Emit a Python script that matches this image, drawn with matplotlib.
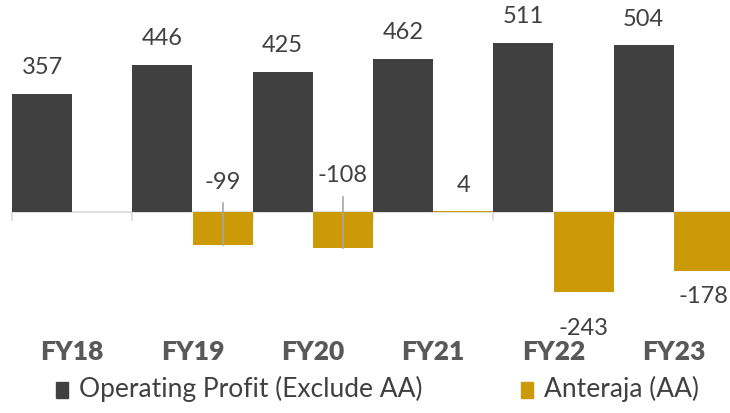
import matplotlib.pyplot as plt
import numpy as np

years = ['FY18', 'FY19', 'FY20', 'FY21', 'FY22', 'FY23']
op_profit = [357, 446, 425, 462, 511, 504]
anteraja = [np.nan, -99, -108, 4, -243, -178]

# where the Anteraja labels sit (data units), Excel moved some of them
aa_label_y = [None, 88, 112, 79, -351, -257]
# leader lines for the labels that were dragged away from the bar
aa_leader_top = [None, 27, 45, None, None, None]

dark = '#404040'
gold = '#CC9A06'
txt = '#404040'
font = 'Lato'

fig = plt.figure(figsize=(7.3, 4.13), dpi=100)
ax = fig.add_axes([12/730, (413-335)/413, 722/730, 335/413])

x = np.arange(len(years))
w = 0.5
ax.bar(x - w/2, op_profit, w, color=dark, zorder=2)
ax.bar(x + w/2, anteraja, w, color=gold, zorder=2)

ax.set_xlim(-0.5, len(years) - 0.5)
ax.set_ylim(-372, 641.5)

# baseline with category tick marks
ax.axhline(0, color='#d9d9d9', lw=1.2, zorder=1)
for b in np.arange(len(years)):
    ax.plot([b - 0.5, b - 0.5], [0, -24], color='#d9d9d9', lw=1.2, zorder=1, clip_on=False)

for xi, v in zip(x, op_profit):
    ax.annotate(str(v), (xi - w/2, v), xytext=(0, 19), textcoords='offset points',
                ha='center', va='center', fontsize=17, color=txt, family=font)

for xi, v, ly, lt in zip(x, anteraja, aa_label_y, aa_leader_top):
    if ly is None:
        continue
    ax.text(xi + w/2, ly, str(v), ha='center', va='center', fontsize=17, color=txt, family=font)
    if lt is not None:
        ax.plot([xi + w/2, xi + w/2], [lt, v], color='#a6a6a6', lw=1.2, zorder=3)

for xi, y in zip(x, years):
    ax.text(xi, -422, y, ha='center', va='center', fontsize=19, fontweight='heavy',
            color='#595959', family=font, clip_on=False)

ax.axis('off')

# legend drawn as text + squares like the Excel one
fig.patches.append(plt.Rectangle((56/730, 1 - 398/413), 12/730, 16/413, color=dark,
                                 transform=fig.transFigure, figure=fig))
fig.text(79/730, 1 - 389/413, 'Operating Profit (Exclude AA)', fontsize=19, color=txt,
         family=font, va='center')
fig.patches.append(plt.Rectangle((521/730, 1 - 398/413), 12/730, 16/413, color=gold,
                                 transform=fig.transFigure, figure=fig))
fig.text(544/730, 1 - 389/413, 'Anteraja (AA)', fontsize=19, color=txt,
         family=font, va='center')

fig.savefig('out.png', dpi=100)
